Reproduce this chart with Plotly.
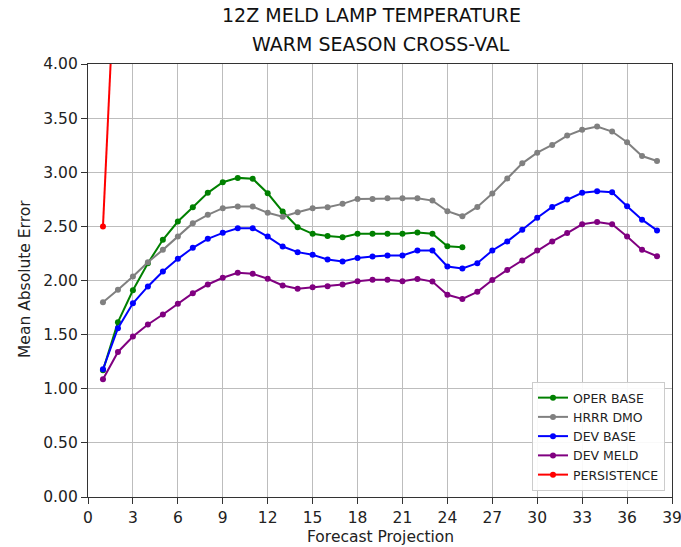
import plotly.graph_objects as go

hours = list(range(1, 39))
oper_hours = list(range(1, 26))
oper_base = [1.17, 1.615, 1.91, 2.16, 2.376, 2.545, 2.677, 2.81, 2.908, 2.948, 2.94, 2.806,
             2.637, 2.492, 2.431, 2.412, 2.40, 2.431, 2.431, 2.431, 2.431, 2.443, 2.431, 2.317, 2.308]
hrrr_dmo = [1.80, 1.914, 2.037, 2.169, 2.283, 2.406, 2.53, 2.607, 2.668, 2.683, 2.683, 2.625,
            2.59, 2.63, 2.668, 2.677, 2.708, 2.754, 2.754, 2.76, 2.76, 2.76, 2.738, 2.64, 2.593,
            2.68, 2.803, 2.943, 3.082, 3.181, 3.252, 3.339, 3.392, 3.423, 3.376, 3.277, 3.15, 3.104]
dev_base = [1.18, 1.56, 1.79, 1.945, 2.083, 2.20, 2.302, 2.385, 2.44, 2.483, 2.483, 2.406,
            2.314, 2.262, 2.237, 2.194, 2.175, 2.209, 2.222, 2.231, 2.231, 2.277, 2.277, 2.129, 2.112,
            2.16, 2.277, 2.361, 2.469, 2.58, 2.68, 2.748, 2.81, 2.825, 2.816, 2.686, 2.562, 2.463]
dev_meld = [1.087, 1.34, 1.483, 1.594, 1.686, 1.785, 1.883, 1.963, 2.025, 2.071, 2.062, 2.016,
            1.954, 1.923, 1.938, 1.948, 1.963, 1.994, 2.006, 2.006, 1.994, 2.015, 1.99, 1.868, 1.83,
            1.895, 2.005, 2.098, 2.184, 2.277, 2.361, 2.438, 2.519, 2.54, 2.519, 2.407, 2.283, 2.224]
pers_hours = [1, 2]
persistence = [2.5, 5.45]

x_ticks = list(range(0, 40, 3))
y_ticks = [0.0, 0.5, 1.0, 1.5, 2.0, 2.5, 3.0, 3.5, 4.0]

series = [
    ("OPER BASE", oper_hours, oper_base, "#008000"),
    ("HRRR DMO", hours, hrrr_dmo, "#808080"),
    ("DEV BASE", hours, dev_base, "#0000ff"),
    ("DEV MELD", hours, dev_meld, "#800080"),
    ("PERSISTENCE", pers_hours, persistence, "#ff0000"),
]

FONT = "DejaVu Sans"
TXT = "#222222"
L, R, T, B = 88, 672, 64, 497
PW, PH = R - L, B - T

fig = go.Figure()
for name, xs, ys, col in series:
    fig.add_trace(go.Scatter(x=xs, y=ys, name=name, mode="lines+markers",
                             line=dict(color=col, width=2),
                             marker=dict(color=col, size=6, symbol="circle"),
                             cliponaxis=True))

axis_common = dict(showline=True, linecolor="#333333", linewidth=1.3, mirror=True,
                   ticks="outside", ticklen=6, tickcolor="#333333", tickwidth=1.3,
                   showgrid=True, gridcolor="#bdbdbd", gridwidth=1.3, zeroline=False,
                   automargin=False, ticklabeloverflow="allow",
                   tickfont=dict(family=FONT, size=15.5, color=TXT))

fig.update_xaxes(range=[0, 39], tickvals=x_ticks, ticktext=[str(v) for v in x_ticks],
                 **axis_common)
fig.update_yaxes(range=[0, 4], tickvals=y_ticks, ticktext=[f"{v:.2f}" for v in y_ticks],
                 **axis_common)

def px_x(p):
    return (p - L) / PW

def px_y(p):
    return (B - p) / PH

fig.add_annotation(text="12Z MELD LAMP TEMPERATURE", xref="paper", yref="paper",
                   x=px_x(371), y=px_y(15), showarrow=False,
                   xanchor="center", yanchor="middle",
                   font=dict(family=FONT, size=19, color="#111111"))
fig.add_annotation(text="WARM SEASON CROSS-VAL", xref="paper", yref="paper",
                   x=px_x(381), y=px_y(44), showarrow=False,
                   xanchor="center", yanchor="middle",
                   font=dict(family=FONT, size=19, color="#111111"))
fig.add_annotation(text="Forecast Projection", xref="paper", yref="paper",
                   x=px_x(380), y=px_y(537), showarrow=False,
                   xanchor="center", yanchor="middle",
                   font=dict(family=FONT, size=15.5, color=TXT))
fig.add_annotation(text="Mean Absolute Error", xref="paper", yref="paper",
                   x=px_x(25), y=px_y(279), showarrow=False, textangle=-90,
                   xanchor="center", yanchor="middle",
                   font=dict(family=FONT, size=15.5, color=TXT))

fig.update_layout(
    width=681, height=547,
    margin=dict(l=L, r=681 - R, t=T, b=547 - B),
    plot_bgcolor="white", paper_bgcolor="white",
    showlegend=True,
    legend=dict(x=px_x(665), y=px_y(491), xanchor="right", yanchor="bottom",
                bgcolor="rgba(255,255,255,0.9)", bordercolor="#cccccc", borderwidth=1,
                font=dict(family=FONT, size=12.5, color=TXT),
                tracegroupgap=0, itemwidth=30),
)

fig.write_html("out.html")
